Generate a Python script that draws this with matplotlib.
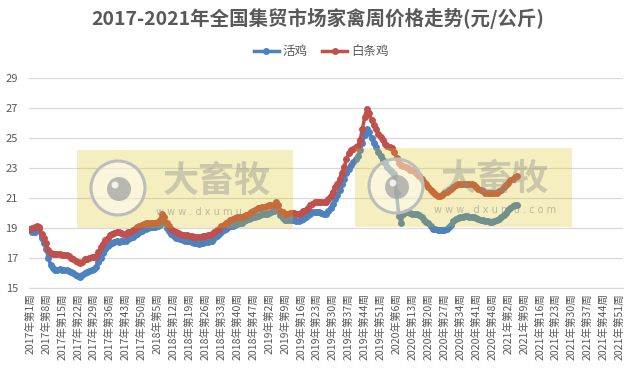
import matplotlib
matplotlib.use("Agg")
import matplotlib.pyplot as plt
from matplotlib.patches import Rectangle, Circle
import numpy as np

plt.rcParams['font.family'] = ['Noto Sans CJK SC', 'DejaVu Sans']

# ---- data ----
years = [2017, 2018, 2019, 2020, 2021]
weeks_per_year = [52, 52, 52, 53, 52]

live_chicken = [
    18.85, 18.75, 18.7, 19.0, 18.9, 18.3, 18.0, 17.6, 17.0, 16.5,
    16.3, 16.15, 16.2, 16.25, 16.2, 16.2, 16.2, 16.1, 16.05, 15.95,
    15.85, 15.75, 15.7, 15.85, 16.0, 16.05, 16.1, 16.15, 16.25, 16.4,
    16.7, 17.0, 17.3, 17.6, 17.8, 17.9, 18.0, 18.05, 18.1, 18.05,
    18.1, 18.1, 18.15, 18.25, 18.3, 18.4, 18.5, 18.6, 18.7, 18.8,
    18.9, 18.95, 19.0, 19.05, 19.05, 19.05, 19.1, 19.2, 19.65, 19.4,
    19.0, 18.8, 18.6, 18.45, 18.35, 18.3, 18.25, 18.2, 18.15, 18.15,
    18.1, 18.05, 18.0, 18.0, 17.95, 18.0, 18.0, 18.05, 18.05, 18.1,
    18.15, 18.3, 18.45, 18.6, 18.75, 18.85, 18.95, 19.05, 19.1, 19.15,
    19.2, 19.25, 19.3, 19.35, 19.45, 19.5, 19.6, 19.65, 19.7, 19.75,
    19.8, 19.85, 19.9, 19.95, 19.95, 20.0, 20.05, 20.1, 20.35, 20.2,
    19.85, 19.65, 19.55, 19.5, 19.5, 19.5, 19.5, 19.45, 19.45, 19.5,
    19.6, 19.7, 19.85, 19.95, 20.05, 20.05, 20.05, 20.05, 20.0, 19.95,
    19.9, 20.1, 20.35, 20.6, 20.9, 21.2, 21.5, 21.9, 22.3, 22.7,
    22.95, 23.2, 23.4, 23.6, 23.8, 24.2, 24.7, 25.2, 25.6, 25.4,
    25.0, 24.7, 24.4, 24.1, 23.8, 23.55, 23.35, 23.1, 22.9, 22.75,
    22.6, 21.3, 19.8, 19.35, 19.95, 20.05, 20.05, 20.0, 19.95, 19.95,
    19.9, 19.85, 19.7, 19.55, 19.4, 19.3, 19.1, 18.95, 18.9, 18.85,
    18.85, 18.85, 18.85, 18.9, 19.05, 19.2, 19.45, 19.6, 19.65, 19.7,
    19.75, 19.8, 19.8, 19.75, 19.75, 19.7, 19.65, 19.6, 19.55, 19.5,
    19.45, 19.45, 19.4, 19.4, 19.45, 19.5, 19.6, 19.7, 19.85, 20.0,
    20.2, 20.35, 20.45, 20.5, 20.5,
]

dressed_chicken = [
    18.95, 19.0, 19.05, 19.15, 19.05, 18.6, 18.3, 18.0, 17.5, 17.3,
    17.25, 17.25, 17.25, 17.25, 17.2, 17.2, 17.2, 17.1, 17.0, 16.9,
    16.8, 16.7, 16.65, 16.75, 16.9, 16.95, 17.0, 17.05, 17.05, 17.1,
    17.4, 17.7, 17.95, 18.2, 18.35, 18.5, 18.6, 18.65, 18.7, 18.7,
    18.65, 18.6, 18.6, 18.7, 18.75, 18.85, 18.95, 19.05, 19.15, 19.2,
    19.25, 19.3, 19.3, 19.3, 19.3, 19.35, 19.4, 19.5, 19.95, 19.7,
    19.35, 19.15, 18.95, 18.8, 18.7, 18.65, 18.6, 18.55, 18.5, 18.5,
    18.45, 18.45, 18.4, 18.4, 18.4, 18.4, 18.45, 18.45, 18.5, 18.55,
    18.6, 18.7, 18.85, 18.95, 19.1, 19.2, 19.3, 19.4, 19.5, 19.6,
    19.65, 19.7, 19.7, 19.75, 19.8, 19.85, 19.95, 20.05, 20.15, 20.2,
    20.3, 20.35, 20.4, 20.4, 20.45, 20.5, 20.5, 20.55, 20.7, 20.5,
    20.15, 20.05, 19.95, 19.95, 20.0, 20.0, 20.0, 19.95, 19.95, 20.0,
    20.1, 20.2, 20.35, 20.5, 20.6, 20.7, 20.75, 20.75, 20.75, 20.7,
    20.7, 20.9, 21.1, 21.4, 21.7, 21.95, 22.3, 22.7, 23.1, 23.6,
    24.0, 24.2, 24.3, 24.4, 24.5, 24.9, 25.6, 26.4, 26.95, 26.7,
    26.2, 25.85, 25.6, 25.3, 25.1, 24.85, 24.6, 24.45, 24.4, 24.35,
    24.1, 23.7, 23.35, 23.2, 23.15, 23.1, 23.0, 22.9, 22.85, 22.75,
    22.6, 22.5, 22.3, 22.1, 21.95, 21.75, 21.55, 21.4, 21.25, 21.15,
    21.15, 21.2, 21.3, 21.4, 21.5, 21.6, 21.75, 21.85, 21.9, 21.95,
    21.95, 21.95, 21.95, 21.95, 21.9, 21.85, 21.75, 21.6, 21.5, 21.45,
    21.35, 21.3, 21.3, 21.3, 21.3, 21.35, 21.45, 21.55, 21.7, 21.85,
    22.0, 22.2, 22.3, 22.4, 22.45,
]

series_names = ['活鸡', '白条鸡']
title = '2017-2021年全国集贸市场家禽周价格走势(元/公斤)'

# category labels: one per week, every 7th shown
categories = [f'{y}年第{w}周' for y, n in zip(years, weeks_per_year) for w in range(1, n + 1)]
tick_idx = list(range(0, len(categories), 7))

W, H = 636, 375
fig = plt.figure(figsize=(W / 100, H / 100), dpi=100)
ax = fig.add_axes([29 / W, 1 - 287.7 / H, 594 / W, (287.7 - 78.3) / H])

grey = '#595959'
colors = ['#4F81BD', '#C0504D']
for vals, name, c in zip([live_chicken, dressed_chicken], series_names, colors):
    ax.plot(np.arange(len(vals)), vals, color=c, lw=2.5, marker='o',
            markersize=5, markeredgewidth=0, label=name, zorder=3)

ax.set_xlim(-0.5, len(categories) - 0.5)
ax.set_ylim(15, 29)
ax.set_yticks(np.arange(15, 30, 2))
ax.set_xticks(tick_idx)
ax.set_xticklabels([categories[i] for i in tick_idx], rotation=90, fontsize=7.6, color=grey)
ax.tick_params(axis='y', length=0, pad=8, labelsize=8, labelcolor=grey)
ax.tick_params(axis='x', length=0, pad=4)
ax.grid(axis='y', color='#D9D9D9', lw=0.9)
ax.set_axisbelow(True)
for s in ['top', 'right', 'left']:
    ax.spines[s].set_visible(False)
ax.spines['bottom'].set_color('#D9D9D9')

fig.text(0.5, 1 - 18 / H, title, ha='center', va='center', fontsize=14,
         fontweight='bold', color=grey)
fig.legend(loc='center', bbox_to_anchor=(0.505, 1 - 52 / H), ncol=2, frameon=False,
           fontsize=9, handlelength=2.0, columnspacing=1.2, handletextpad=0.3,
           labelcolor=grey)


# watermark boxes (pixel layout, top-left origin)
def watermark(x0, y0, w, h):
    tr = fig.dpi_scale_trans
    fig.add_artist(Rectangle((x0 / 100, (H - y0 - h) / 100), w / 100, h / 100,
                             transform=tr, facecolor='#DBC303', alpha=0.25,
                             edgecolor='none', zorder=5))
    cx, cy = (x0 + 41) / 100, (H - y0 - 38) / 100
    fig.add_artist(Circle((cx, cy), 0.27, transform=tr, facecolor='white', alpha=0.45,
                          edgecolor='none', zorder=6))
    fig.add_artist(Circle((cx, cy), 0.27, transform=tr, facecolor='none',
                          edgecolor='#BDBDBD', lw=2.2, zorder=6))
    fig.add_artist(Circle((cx + 0.01, cy - 0.01), 0.12, transform=tr, facecolor='#9E9E9E',
                          alpha=0.7, edgecolor='none', zorder=6))
    fig.add_artist(Circle((cx - 0.03, cy + 0.03), 0.035, transform=tr, facecolor='white',
                          alpha=0.8, edgecolor='none', zorder=6))
    fig.text((x0 + 140) / 100, (H - y0 - 31) / 100, '大畜牧', transform=tr,
             ha='center', va='center', fontsize=26, fontweight='bold',
             color='#8C8C8C', alpha=0.4, zorder=6)
    fig.text((x0 + 140) / 100, (H - y0 - 62) / 100, 'w w w . d x u m u . c o m',
             transform=tr, ha='center', va='center', fontsize=7,
             color='#8C8C8C', alpha=0.55, zorder=6, family='DejaVu Sans')


watermark(77, 150, 216, 78)
watermark(355, 148, 217, 79)

fig.savefig('out.png', dpi=100)
